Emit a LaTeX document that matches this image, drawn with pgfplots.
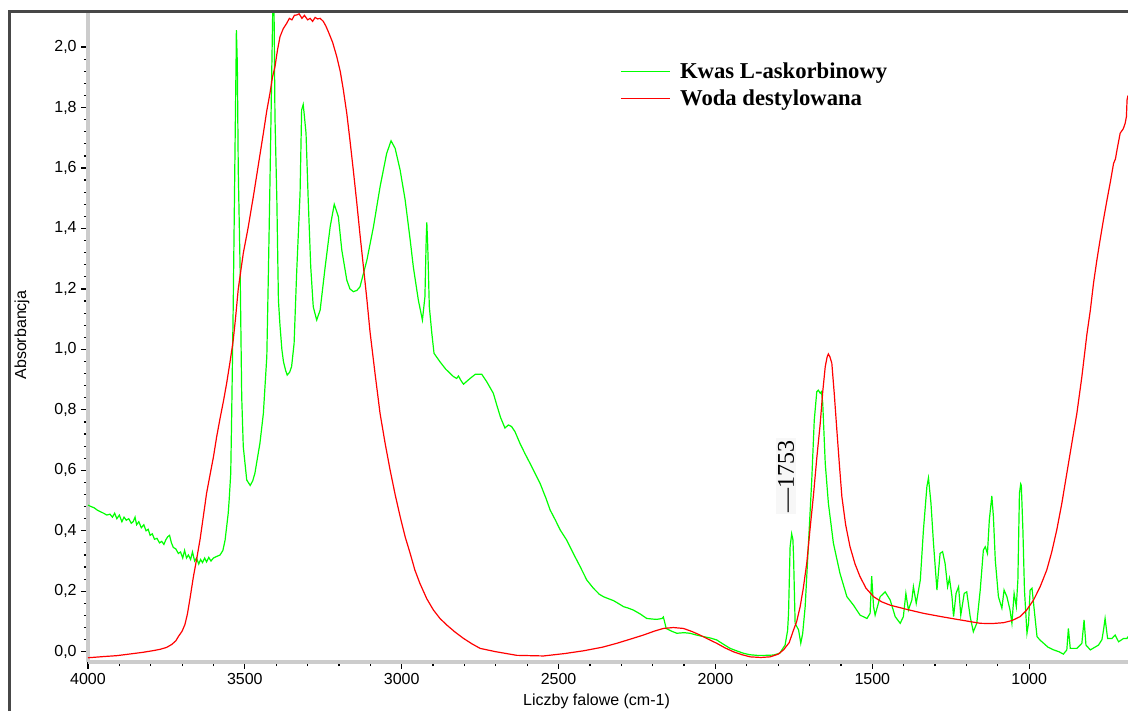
\documentclass[border=0pt]{standalone}
\usepackage{fontspec}
\setmainfont{Liberation Sans}
\newfontfamily\serifface{Liberation Serif}
\usepackage{pgfplots}
\pgfplotsset{compat=1.18}
\definecolor{specGreen}{RGB}{0,255,0}
\definecolor{specRed}{RGB}{255,0,0}
\definecolor{axisGrey}{RGB}{204,204,204}

\begin{document}
\begin{tikzpicture}
\path[use as bounding box] (0,0) rectangle (846pt,533.25pt);
\begin{axis}[
    at={(66pt,36.75pt)}, anchor=south west,
    scale only axis,
    width=780pt, height=487.5pt,
    x dir=reverse,
    xmin=685, xmax=4000,
    ymin=-0.034, ymax=2.116,
    xtick={4000,3500,...,1000},
    ytick={0,0.2,...,2.0},
    minor x tick num=4,
    minor y tick num=4,
    axis x line=bottom, axis y line=left,
    axis line style={draw=axisGrey, line width=3pt, -},
    tick align=outside,
    major tick length=5pt,
    minor tick length=3pt,
    tick style={black, line width=0.9pt},
    tick label style={font=\fontsize{12}{14}\selectfont},
    label style={font=\fontsize{12}{14}\selectfont},
    /pgf/number format/assume math mode=true,
    xticklabel style={/pgf/number format/1000 sep={}},
    yticklabel style={/pgf/number format/.cd, fixed, fixed zerofill, precision=1, use comma},
    xlabel={Liczby falowe (cm-1)},
    ylabel={Absorbancja},
    xlabel style={at={(axis description cs:0.489,-0.06)}, anchor=center},
    ylabel style={at={(axis description cs:-0.0635,0.503)}, anchor=center},
    legend style={at={(axis description cs:0.5115,0.926)}, anchor=north west,
        draw=none, fill=none, inner sep=0pt, row sep=2.5pt, column sep=5pt,
        font=\serifface\bfseries\fontsize{17}{20}\selectfont},
    legend cell align=left,
    legend image code/.code={\draw[#1] (0pt,0pt) -- (37pt,0pt);},
]
\addplot[color=specGreen, line width=0.9pt] coordinates {
(4000,0.485) (3990,0.48) (3980,0.476) (3970,0.468) (3960,0.463) (3950,0.458)
(3940,0.452) (3930,0.455) (3922,0.445) (3915,0.458) (3908,0.44) (3900,0.452)
(3892,0.43) (3885,0.445) (3878,0.435) (3870,0.44) (3862,0.425) (3856,0.43)
(3850,0.445) (3845,0.42) (3838,0.43) (3830,0.41) (3822,0.42) (3815,0.40)
(3808,0.405) (3802,0.385) (3795,0.39) (3788,0.372) (3780,0.375) (3772,0.36)
(3765,0.365) (3758,0.355) (3752,0.37) (3746,0.38) (3740,0.385) (3734,0.36)
(3728,0.345) (3720,0.34) (3712,0.325) (3705,0.33) (3698,0.31) (3692,0.335)
(3686,0.31) (3680,0.32) (3673,0.305) (3667,0.33) (3660,0.3) (3654,0.31)
(3647,0.29) (3641,0.305) (3635,0.295) (3628,0.31) (3622,0.297) (3615,0.312)
(3608,0.3) (3600,0.31) (3590,0.315) (3579,0.32) (3570,0.335) (3563,0.369)
(3553,0.458) (3550,0.502) (3545,0.59) (3542,0.78) (3537,1.15) (3531,1.692)
(3528,1.95) (3527,2.056) (3524,1.946) (3521,1.593) (3515,1.262) (3510,0.843)
(3505,0.678) (3494,0.568) (3483,0.55) (3475,0.565) (3468,0.59) (3452,0.689)
(3441,0.788) (3430,0.976) (3425,1.25) (3420,1.549) (3414,1.935) (3411,2.13)
(3407,2.13) (3404,1.77) (3398,1.494) (3393,1.163) (3388,1.08) (3382,1.0)
(3377,0.96) (3370,0.93) (3365,0.915) (3357,0.925) (3351,0.943) (3343,1.02)
(3335,1.25) (3324,1.516) (3319,1.792) (3314,1.81) (3311,1.78) (3305,1.715)
(3298,1.494) (3290,1.273) (3282,1.141) (3271,1.097) (3260,1.13) (3244,1.273)
(3228,1.406) (3215,1.48) (3202,1.439) (3191,1.329) (3175,1.229) (3165,1.2)
(3154,1.191) (3143,1.195) (3133,1.207) (3111,1.295) (3090,1.406) (3069,1.538)
(3048,1.648) (3034,1.69) (3021,1.665) (3005,1.593) (2989,1.494) (2973,1.362)
(2963,1.273) (2947,1.163) (2934,1.097) (2926,1.174) (2922,1.362) (2920,1.42)
(2917,1.34) (2912,1.141) (2904,1.053) (2897,0.987) (2878,0.959) (2860,0.935)
(2846,0.921) (2835,0.91) (2825,0.904) (2819,0.912) (2810,0.895) (2803,0.885)
(2782,0.904) (2765,0.918) (2745,0.918) (2729,0.893) (2708,0.855) (2697,0.816)
(2685,0.775) (2671,0.74) (2660,0.75) (2650,0.745) (2639,0.728) (2623,0.689)
(2607,0.655) (2591,0.623) (2575,0.59) (2559,0.557) (2540,0.507) (2527,0.469)
(2510,0.435) (2495,0.403) (2474,0.369) (2453,0.325) (2431,0.281) (2410,0.237)
(2389,0.21) (2370,0.19) (2357,0.182) (2340,0.175) (2325,0.169) (2310,0.16)
(2293,0.149) (2280,0.145) (2262,0.138) (2240,0.125) (2219,0.11) (2200,0.108)
(2187,0.107) (2170,0.11) (2166,0.115) (2160,0.09) (2157,0.077) (2140,0.068)
(2123,0.061) (2100,0.063) (2081,0.061) (2060,0.055) (2038,0.05) (2015,0.045)
(1996,0.039) (1975,0.025) (1953,0.011) (1930,0.002) (1911,-0.005) (1890,-0.01)
(1868,-0.012) (1840,-0.012) (1815,-0.011) (1795,-0.005) (1778,0.022) (1770,0.07)
(1767,0.127) (1762,0.347) (1757,0.39) (1753,0.37) (1751,0.314) (1746,0.094)
(1735,0.072) (1728,0.028) (1722,0.06) (1714,0.149) (1704,0.347) (1693,0.568)
(1685,0.766) (1677,0.86) (1672,0.865) (1666,0.855) (1662,0.86) (1658,0.822)
(1650,0.623) (1640,0.491) (1624,0.359) (1603,0.259) (1581,0.182) (1560,0.154)
(1539,0.121) (1517,0.11) (1507,0.127) (1502,0.25) (1496,0.149) (1491,0.121)
(1475,0.182) (1459,0.198) (1443,0.171) (1427,0.116) (1411,0.094) (1401,0.116)
(1393,0.193) (1385,0.138) (1374,0.171) (1369,0.215) (1360,0.16) (1347,0.237)
(1337,0.403) (1326,0.546) (1321,0.575) (1313,0.491) (1305,0.359) (1294,0.204)
(1284,0.325) (1276,0.331) (1268,0.292) (1260,0.215) (1254,0.243) (1246,0.182)
(1241,0.116) (1233,0.193) (1225,0.215) (1218,0.121) (1207,0.193) (1199,0.198)
(1188,0.116) (1178,0.066) (1167,0.094) (1156,0.204) (1146,0.336) (1140,0.347)
(1133,0.325) (1127,0.436) (1119,0.515) (1114,0.447) (1108,0.303) (1098,0.182)
(1087,0.144) (1080,0.204) (1071,0.182) (1061,0.138) (1055,0.094) (1048,0.193)
(1041,0.149) (1036,0.237) (1031,0.524) (1027,0.555) (1025,0.55) (1020,0.403)
(1015,0.204) (1007,0.061) (1002,0.094) (997,0.204) (991,0.21) (986,0.16)
(975,0.05) (965,0.038) (954,0.028) (940,0.015) (922,0.006) (905,0.0)
(891,-0.008) (880,0.006) (875,0.077) (869,0.011) (848,0.011) (832,0.028)
(825,0.105) (819,0.022) (805,0.006) (779,0.022) (768,0.04) (763,0.072)
(758,0.11) (750,0.044) (736,0.044) (726,0.055) (715,0.033) (699,0.044)
(688,0.044) (685,0.05)
};
\addlegendentry{Kwas L-askorbinowy}
\addplot[color=specRed, line width=0.9pt] coordinates {
(4000,-0.020) (3950,-0.016) (3908,-0.013) (3870,-0.008) (3825,-0.002) (3790,0.004)
(3770,0.008) (3750,0.014) (3733,0.024) (3720,0.036) (3712,0.050) (3700,0.068)
(3691,0.090) (3683,0.125) (3675,0.175) (3664,0.248) (3653,0.31) (3643,0.37)
(3632,0.45) (3622,0.524) (3611,0.585) (3600,0.645) (3590,0.71) (3579,0.772)
(3568,0.83) (3558,0.888) (3547,0.96) (3537,1.031) (3530,1.10) (3521,1.20)
(3505,1.318) (3490,1.40) (3473,1.505) (3457,1.61) (3441,1.715) (3430,1.79)
(3420,1.847) (3412,1.90) (3404,1.935) (3396,1.99) (3388,2.034) (3378,2.06)
(3367,2.078) (3358,2.095) (3350,2.09) (3342,2.105) (3335,2.106) (3327,2.11)
(3318,2.095) (3310,2.105) (3300,2.09) (3292,2.095) (3284,2.085) (3276,2.098)
(3268,2.093) (3260,2.095) (3250,2.085) (3242,2.07) (3234,2.051) (3220,2.015)
(3207,1.968) (3196,1.92) (3186,1.858) (3175,1.78) (3165,1.692) (3154,1.59)
(3143,1.483) (3133,1.38) (3122,1.273) (3111,1.165) (3101,1.058) (3085,0.92)
(3069,0.788) (3053,0.69) (3037,0.601) (3021,0.52) (3005,0.447) (2989,0.38)
(2973,0.325) (2958,0.27) (2942,0.226) (2920,0.175) (2899,0.138) (2878,0.11)
(2856,0.088) (2830,0.065) (2803,0.044) (2776,0.026) (2750,0.011) (2700,0.0)
(2633,-0.012) (2548,-0.014) (2480,-0.006) (2421,0.003) (2360,0.015) (2314,0.028)
(2270,0.042) (2230,0.055) (2195,0.068) (2166,0.077) (2134,0.080) (2102,0.077)
(2075,0.067) (2049,0.055) (2020,0.040) (1996,0.028) (1970,0.013) (1943,0.0)
(1915,-0.01) (1889,-0.017) (1855,-0.019) (1826,-0.017) (1800,-0.008) (1783,0.006)
(1765,0.03) (1751,0.072) (1741,0.100) (1730,0.149) (1720,0.21) (1709,0.292)
(1699,0.40) (1688,0.513) (1677,0.64) (1666,0.755) (1658,0.86) (1650,0.943)
(1644,0.975) (1640,0.985) (1635,0.975) (1629,0.954) (1621,0.85) (1613,0.733)
(1605,0.62) (1597,0.513) (1585,0.42) (1571,0.347) (1555,0.29) (1539,0.248)
(1520,0.21) (1496,0.182) (1470,0.165) (1443,0.154) (1390,0.14) (1337,0.127)
(1280,0.116) (1230,0.107) (1190,0.100) (1156,0.094) (1120,0.093) (1082,0.096)
(1055,0.103) (1029,0.116) (1008,0.138) (986,0.171) (965,0.215) (944,0.270)
(928,0.33) (912,0.403) (896,0.49) (880,0.590) (864,0.69) (848,0.788)
(832,0.91) (816,1.05) (805,1.13) (795,1.218) (785,1.29) (774,1.362)
(763,1.43) (752,1.494) (741,1.555) (731,1.615) (725,1.63) (720,1.66)
(710,1.715) (700,1.73) (694,1.748) (690,1.77) (688,1.825) (685,1.84)
};
\addlegendentry{Woda destylowana}
\node[rotate=90, fill=black!3, inner sep=1.5pt, font=\serifface\fontsize{18}{20}\selectfont] at (axis cs:1775,0.58) {—1753};
\end{axis}
\draw[black!72, line width=2pt] (6.9pt,0pt) -- (6.9pt,524.8pt) -- (846pt,524.8pt);
\end{tikzpicture}
\end{document}
